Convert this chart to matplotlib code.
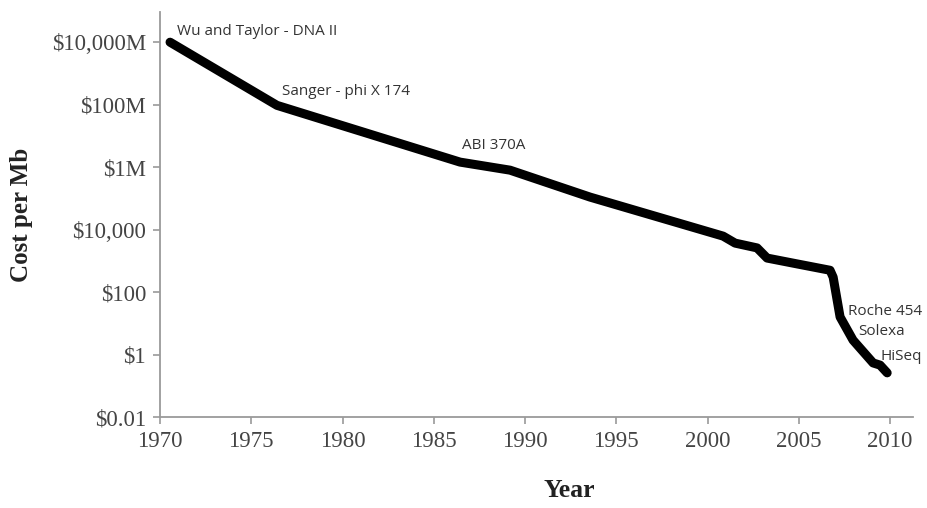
import matplotlib
matplotlib.use("Agg")
import matplotlib.pyplot as plt
from matplotlib.ticker import FixedLocator, NullLocator

# Sequencing cost per megabase over time
years = [1970.55, 1976.41, 1986.44, 1989.18, 1993.56, 2000.85, 2001.51, 2002.71,
         2003.26, 2004.90, 2006.71, 2006.88, 2007.26, 2007.97, 2009.07, 2009.45, 2009.84]
cost = [1.0e10, 9.5e7, 1.45e6, 8.0e5, 1.1e5, 6.2e3, 3.7e3, 2.6e3,
        1.23e3, 8.0e2, 5.0e2, 3.0e2, 16.0, 2.9, 0.54, 0.46, 0.26]

# Technology milestones (text, year, cost at text position)
milestone_text = ["Wu and Taylor - DNA II", "Sanger - phi X 174", "ABI 370A",
                  "Roche 454", "Solexa", "HiSeq"]
milestone_year = [1970.93, 1976.68, 1986.55, 2007.70, 2008.25, 2009.45]
milestone_cost = [2.2e10, 2.7e8, 5.0e6, 24.5, 5.6, 0.89]

ytick_vals = [1e-2, 1e0, 1e2, 1e4, 1e6, 1e8, 1e10]
ytick_labels = ["$0.01", "$1", "$100", "$10,000", "$1M", "$100M", "$10,000M"]
xtick_vals = list(range(1970, 2011, 5))

fig = plt.figure(figsize=(9.27, 5.08), dpi=100)
ax = fig.add_axes([0.1726, 0.179, 0.8124, 0.797])

ax.plot(years, cost, color="black", linewidth=6.5, solid_capstyle="round",
        solid_joinstyle="round")

ax.set_yscale("log")
ax.set_xlim(1970, 2011.26)
ax.set_ylim(1e-2, 10 ** 10.96)

ax.yaxis.set_major_locator(FixedLocator(ytick_vals))
ax.yaxis.set_minor_locator(NullLocator())
ax.set_yticklabels(ytick_labels)
ax.set_xticks(xtick_vals)
ax.set_xticklabels([str(v) for v in xtick_vals])

serif = "Liberation Serif"
for lab in ax.get_xticklabels() + ax.get_yticklabels():
    lab.set_fontfamily(serif)
    lab.set_fontsize(16.5)
    lab.set_color("#444444")

for side in ("top", "right"):
    ax.spines[side].set_visible(False)
for side in ("left", "bottom"):
    ax.spines[side].set_color("#9a9a9a")
    ax.spines[side].set_linewidth(1.3)
ax.tick_params(axis="both", direction="out", length=5, width=1.2,
               color="#9a9a9a", pad=5)

ax.set_ylabel("Cost per Mb", fontfamily=serif, fontweight="bold",
              fontsize=18, color="#222222")
ax.set_xlabel("Year", fontfamily=serif, fontweight="bold",
              fontsize=18.5, color="#222222")
ax.yaxis.set_label_coords(-0.168, 0.5)
ax.xaxis.set_label_coords(0.544, -0.152)

for t, x, y in zip(milestone_text, milestone_year, milestone_cost):
    ax.text(x, y, t, fontfamily="Open Sans", fontsize=11, color="#333333",
            ha="left", va="center")

fig.savefig("out.png", dpi=100, facecolor="white")
